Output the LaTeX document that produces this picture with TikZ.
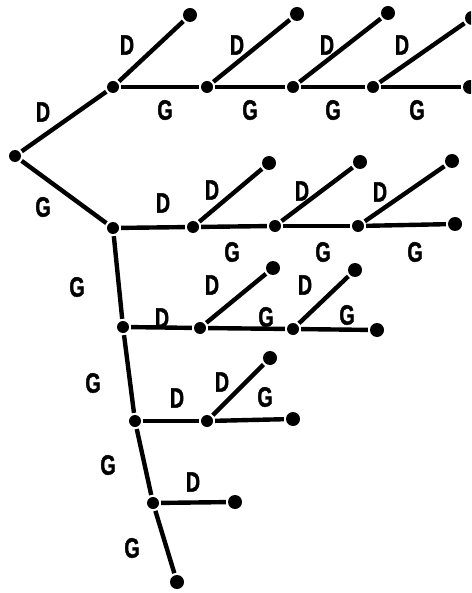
\documentclass[tikz,border=0pt]{standalone}
\usepackage{fontspec}
\newfontfamily\lblfont{Liberation Sans}[FakeStretch=0.7,FakeBold=1.5]
\usepackage{tikz}

\begin{document}
\begin{tikzpicture}[x=1pt,y=-1pt,line width=4.4pt,
		main node/.style={circle,fill,inner sep=0pt,minimum size=12pt},
		end node/.style={main node,minimum size=14pt},
		lbl/.style={font=\lblfont\bfseries\fontsize{28}{28}\selectfont,inner sep=0pt}]

	\useasboundingbox (0,0) rectangle (471,593);
	\clip (0,0) rectangle (471,593);

	% root and upper row
	\node[main node] (r) at (15,156) {};
	\node[main node] (a) at (113,87) {};
	\node[main node] (a1) at (207,87) {};
	\node[main node] (a2) at (293,87) {};
	\node[main node] (a3) at (373,87) {};
	\node[end node] (aE) at (470,87) {};
	\node[end node] (ta) at (190,15) {};
	\node[end node] (ta1) at (297,14) {};
	\node[end node] (ta2) at (388,13) {};
	\node[end node] (ta3) at (472,18) {};

	% second row
	\node[main node] (b) at (113,228) {};
	\node[main node] (b1) at (193,227) {};
	\node[main node] (b2) at (275,226) {};
	\node[main node] (b3) at (358,226) {};
	\node[end node] (bE) at (455,224) {};
	\node[end node] (tb1) at (269,163) {};
	\node[end node] (tb2) at (360,162) {};
	\node[end node] (tb3) at (452,161) {};

	% third row
	\node[main node] (c) at (123,327) {};
	\node[main node] (c1) at (200,328) {};
	\node[main node] (c2) at (293,329) {};
	\node[end node] (cE) at (377,330) {};
	\node[end node] (tc1) at (273,268) {};
	\node[end node] (tc2) at (355,270) {};

	% fourth row
	\node[main node] (d) at (135,421) {};
	\node[main node] (d1) at (207,421) {};
	\node[end node] (dE) at (293,419) {};
	\node[end node] (td1) at (270,358) {};

	% fifth row and foot
	\node[main node] (e) at (153,503) {};
	\node[end node] (eE) at (235,502) {};
	\node[end node] (f) at (177,582) {};

	\path
	(r) edge (a)
	(r) edge (b)
	(a) edge (a1) (a1) edge (a2) (a2) edge (a3) (a3) edge (aE)
	(a) edge (ta) (a1) edge (ta1) (a2) edge (ta2) (a3) edge (ta3)
	(b) edge (b1) (b1) edge (b2) (b2) edge (b3) (b3) edge (bE)
	(b1) edge (tb1) (b2) edge (tb2) (b3) edge (tb3)
	(b) edge (c) (c) edge (d) (d) edge (e) (e) edge (f)
	(c) edge (c1) (c1) edge (c2) (c2) edge (cE)
	(c1) edge (tc1) (c2) edge (tc2)
	(d) edge (d1) (d1) edge (dE)
	(d1) edge (td1)
	(e) edge (eE);

	% labels
	\node[lbl] (l1) at (43,112) {D};
	\node[lbl] (l2) at (43,207) {G};
	\node[lbl] (l3) at (127,45) {D};
	\node[lbl] (l4) at (237,45) {D};
	\node[lbl] (l5) at (327,45) {D};
	\node[lbl] (l6) at (402,45) {D};
	\node[lbl] (l7) at (165,110) {G};
	\node[lbl] (l8) at (250,110) {G};
	\node[lbl] (l9) at (333,110) {G};
	\node[lbl] (l10) at (417,110) {G};
	\node[lbl] (l11) at (163,203) {D};
	\node[lbl] (l12) at (212,190) {D};
	\node[lbl] (l13) at (302,191) {D};
	\node[lbl] (l14) at (380,192) {D};
	\node[lbl] (l15) at (232,252) {G};
	\node[lbl] (l16) at (323,252) {G};
	\node[lbl] (l17) at (415,252) {G};
	\node[lbl] (l18) at (77,287) {G};
	\node[lbl] (l19) at (162,318) {D};
	\node[lbl] (l20) at (212,285) {D};
	\node[lbl] (l21) at (266,317) {G};
	\node[lbl] (l22) at (305,285) {D};
	\node[lbl] (l23) at (347,315) {G};
	\node[lbl] (l24) at (93,383) {G};
	\node[lbl] (l25) at (177,398) {D};
	\node[lbl] (l26) at (222,382) {D};
	\node[lbl] (l27) at (265,397) {G};
	\node[lbl] (l28) at (108,465) {G};
	\node[lbl] (l29) at (193,482) {D};
	\node[lbl] (l30) at (132,548) {G};
\end{tikzpicture}
\end{document}
